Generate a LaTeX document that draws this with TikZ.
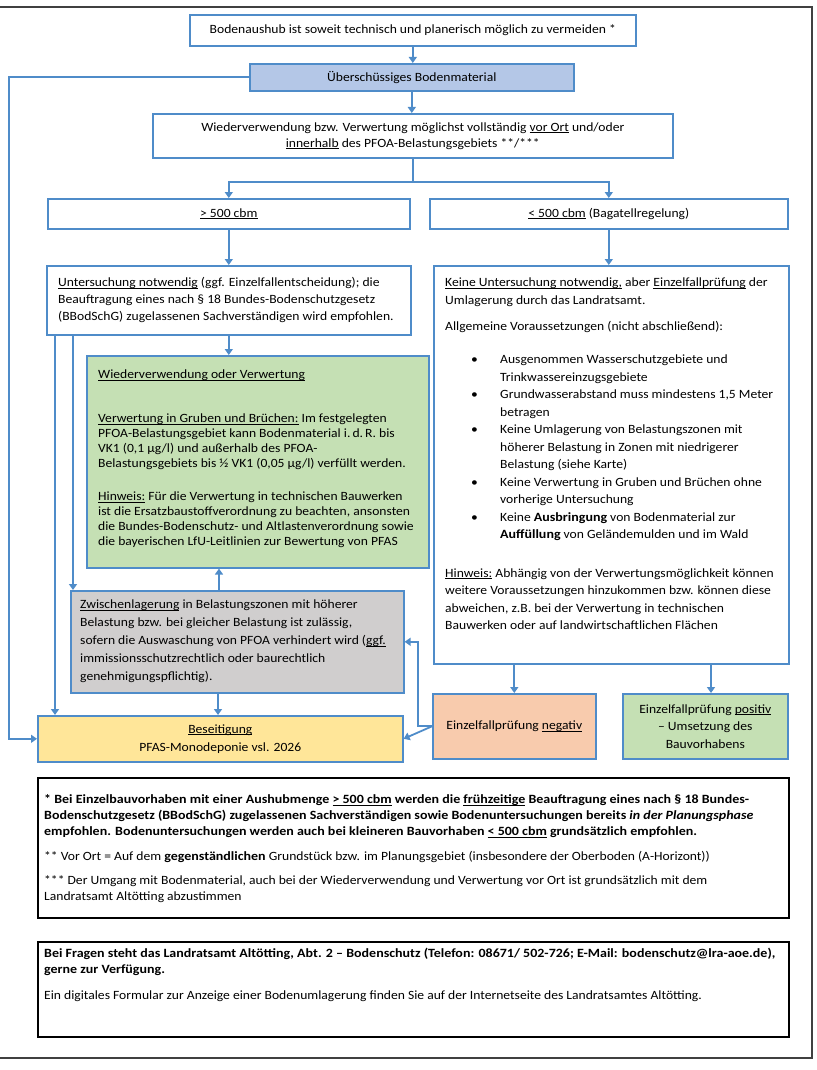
\documentclass[tikz,border=0pt]{standalone}
\usepackage{fontspec}
\setmainfont{Carlito}[UprightFeatures={FakeStretch=1.08}, ItalicFeatures={FakeStretch=1.08},
	BoldFeatures={FakeStretch=1.11}, BoldItalicFeatures={FakeStretch=1.11}]
\usetikzlibrary{arrows.meta}
\definecolor{flowblue}{HTML}{4F8CC9}
\definecolor{ueberfill}{HTML}{B4C7E7}
\definecolor{greenfill}{HTML}{C5E0B4}
\definecolor{grayfill}{HTML}{D0CECE}
\definecolor{yellowfill}{HTML}{FFE699}
\definecolor{salmonfill}{HTML}{F8CBAD}
\newcommand{\uln}[1]{\leavevmode\setbox0\hbox{#1}\rlap{\rule[-1.7pt]{\wd0}{0.6pt}}\box0\relax}
\newcommand{\tstrut}{\rule{0pt}{11pt}}
\newcommand{\blt}{\makebox[55pt][l]{\hspace{26pt}\textbullet}}
\newcommand{\bind}{\hspace*{55pt}}
\newcommand{\boxfont}{\fontsize{12.6}{15}\selectfont}

\begin{document}
\begin{tikzpicture}[x=1pt, y=-1pt,
	box/.style={draw=flowblue, line width=1.6pt, fill=white, anchor=north west, inner sep=0pt, align=center, font=\boxfont},
	note/.style={draw=black, line width=1.6pt, fill=white, anchor=north west, inner sep=0pt},
	txt/.style={anchor=north west, inner sep=0pt, align=left, font=\boxfont},
	flow/.style={draw=flowblue, line width=1.8pt, -{Triangle[width=8pt,length=6pt]}},
	link/.style={draw=flowblue, line width=1.8pt}]
	\useasboundingbox (0,0) rectangle (816,1070);
	\draw[line width=1.2pt, black!75] (0,7) -- (812,7) -- (812,1058) -- (0,1058);

	% Kopf
	\node[box, minimum width=446, minimum height=31] (vermeiden) at (189,14) {Bodenaushub ist soweit technisch und planerisch möglich zu vermeiden *};
	\node[box, fill=ueberfill, minimum width=324, minimum height=27] (ueber) at (249,63) {Überschüssiges Bodenmaterial};
	\node[box, minimum width=520, minimum height=44, font=\fontsize{12.6}{16}\selectfont] (wieder) at (152,113)
		{Wiederverwendung bzw. Verwertung möglichst vollständig \uln{vor Ort} und/oder\\\uln{innerhalb} des PFOA-Belastungsgebiets **/***};
	\node[box, minimum width=362, minimum height=30] (gross) at (47,198) {\uln{> 500 cbm}};
	\node[box, minimum width=358, minimum height=30] (klein) at (429,198) {\uln{< 500 cbm} (Bagatellregelung)};

	% linke Spalte
	\node[box, minimum width=364, minimum height=69] (unters) at (46,265) {};
	\node[txt, font=\fontsize{12.6}{17}\selectfont] (unterstext) at ([shift={(12,10.5)}]unters.north west)
		{\tstrut\uln{Untersuchung notwendig} (ggf. Einzelfallentscheidung); die\\
		Beauftragung eines nach § 18 Bundes-Bodenschutzgesetz\\
		(BBodSchG) zugelassenen Sachverständigen wird empfohlen.};
	\node[box, fill=greenfill, minimum width=342, minimum height=212] (verwertung) at (86,355) {};
	\node[txt] (verwertungtext) at ([shift={(12,12.5)}]verwertung.north west)
		{\tstrut\uln{Wiederverwendung oder Verwertung}\\[29pt]
		\uln{Verwertung in Gruben und Brüchen:} Im festgelegten\\
		PFOA-Belastungsgebiet kann Bodenmaterial i.\,d.\,R. bis\\
		VK1 (0,1 µg/l) und außerhalb des PFOA-\\
		Belastungsgebiets bis ½ VK1 (0,05 µg/l) verfüllt werden.\\[18pt]
		\uln{Hinweis:} Für die Verwertung in technischen Bauwerken\\
		ist die Ersatzbaustoffverordnung zu beachten, ansonsten\\
		die Bundes-Bodenschutz- und Altlastenverordnung sowie\\
		die bayerischen LfU-Leitlinien zur Bewertung von PFAS};
	\node[box, fill=grayfill, minimum width=333, minimum height=102] (zwischen) at (70,590) {};
	\node[txt, font=\fontsize{12.6}{18}\selectfont] (zwischentext) at ([shift={(10,7.5)}]zwischen.north west)
		{\tstrut\uln{Zwischenlagerung} in Belastungszonen mit höherer\\
		Belastung bzw. bei gleicher Belastung ist zulässig,\\
		sofern die Auswaschung von PFOA verhindert wird (\uln{ggf.}\\
		immissionsschutzrechtlich oder baurechtlich\\
		genehmigungspflichtig).};
	\node[box, fill=yellowfill, minimum width=365, minimum height=46, font=\fontsize{12.6}{18}\selectfont] (beseitigung) at (37,715)
		{\uln{Beseitigung}\\PFAS-Monodeponie vsl. 2026};

	% rechte Spalte
	\node[box, minimum width=355, minimum height=398] (keine) at (433,265) {};
	\node[txt, font=\fontsize{12.6}{17.5}\selectfont] (keinetext) at ([shift={(12,10.5)}]keine.north west)
		{\tstrut\uln{Keine Untersuchung notwendig,} aber \uln{Einzelfallprüfung} der\\
		Umlagerung durch das Landratsamt.\\[9pt]
		Allgemeine Voraussetzungen (nicht abschließend):\\[15.5pt]
		\blt Ausgenommen Wasserschutzgebiete und\\
		\bind Trinkwassereinzugsgebiete\\
		\blt Grundwasserabstand muss mindestens 1,5 Meter\\
		\bind betragen\\
		\blt Keine Umlagerung von Belastungszonen mit\\
		\bind höherer Belastung in Zonen mit niedrigerer\\
		\bind Belastung (siehe Karte)\\
		\blt Keine Verwertung in Gruben und Brüchen ohne\\
		\bind vorherige Untersuchung\\
		\blt Keine \textbf{Ausbringung} von Bodenmaterial zur\\
		\bind \textbf{Auffüllung} von Geländemulden und im Wald\\[21pt]
		\uln{Hinweis:} Abhängig von der Verwertungsmöglichkeit können\\
		weitere Voraussetzungen hinzukommen bzw. können diese\\
		abweichen, z.B. bei der Verwertung in technischen\\
		Bauwerken oder auf landwirtschaftlichen Flächen};
	\node[box, fill=salmonfill, minimum width=163, minimum height=65] (negativ) at (432,693) {Einzelfallprüfung \uln{negativ}};
	\node[box, fill=greenfill, minimum width=165, minimum height=65, font=\fontsize{12.6}{17.5}\selectfont] (positiv) at (622,693)
		{Einzelfallprüfung \uln{positiv}\\– Umsetzung des\\Bauvorhabens};

	% Fussnoten
	\node[note, minimum width=751, minimum height=140] (fna) at (37,777) {};
	\node[txt, font=\fontsize{12.6}{16}\selectfont] (fnatext) at ([shift={(7,15.5)}]fna.north west)
		{\tstrut\textbf{* Bei Einzelbauvorhaben mit einer Aushubmenge \uln{> 500 cbm} werden die \uln{frühzeitige} Beauftragung eines nach § 18 Bundes-}\\
		\textbf{Bodenschutzgesetz (BBodSchG) zugelassenen Sachverständigen sowie Bodenuntersuchungen bereits \textit{in der Planungsphase}}\\
		\textbf{empfohlen. Bodenuntersuchungen werden auch bei kleineren Bauvorhaben \uln{< 500 cbm} grundsätzlich empfohlen.}\\[9pt]
		** Vor Ort = Auf dem \textbf{gegenständlichen} Grundstück bzw. im Planungsgebiet (insbesondere der Oberboden (A-Horizont))\\[8pt]
		*** Der Umgang mit Bodenmaterial, auch bei der Wiederverwendung und Verwertung vor Ort ist grundsätzlich mit dem\\
		Landratsamt Altötting abzustimmen};
	\node[note, minimum width=751, minimum height=95] (fnb) at (37,941) {};
	\node[txt, font=\fontsize{12.6}{16}\selectfont] (fnbtext) at ([shift={(7,5)}]fnb.north west)
		{\tstrut\textbf{Bei Fragen steht das Landratsamt Altötting, Abt. 2 – Bodenschutz (Telefon: 08671/ 502-726; E-Mail: bodenschutz@lra-aoe.de),}\\
		\textbf{gerne zur Verfügung.}\\[10pt]
		Ein digitales Formular zur Anzeige einer Bodenumlagerung finden Sie auf der Internetseite des Landratsamtes Altötting.};

	% Pfeile
	\draw[flow] (vermeiden.south) -- (vermeiden.south |- ueber.north);
	\draw[flow] (ueber.south) -- (ueber.south |- wieder.north);
	\draw[flow] (ueber.west) -- ++(-240,0) |- (beseitigung.west);
	\draw[link] (wieder.south) -- ++(0,23) coordinate (split);
	\draw[flow] (split) -| (gross.north);
	\draw[flow] (split) -| (klein.north);
	\draw[flow] (gross.south) -- (unters.north);
	\draw[flow] (klein.south) -- (klein.south |- keine.north);
	\draw[flow] (unters.south) -- (unters.south |- verwertung.north);
	\draw[flow] ([xshift=9pt]unters.south west) -- ([xshift=9pt]unters.south west |- beseitigung.north);
	\draw[flow] ([xshift=27pt]unters.south west) -- ([xshift=27pt]unters.south west |- zwischen.north);
	\draw[flow] ([xshift=149pt]zwischen.north west) -- ([xshift=149pt]zwischen.north west |- verwertung.south);
	\draw[flow] ([xshift=148pt]zwischen.south west) -- ([xshift=148pt]zwischen.south west |- beseitigung.north);
	\draw[flow] (negativ.north |- keine.south) -- (negativ.north);
	\draw[flow] ([xshift=89pt]positiv.north west |- keine.south) -- ([xshift=89pt]positiv.north west);
	\draw[flow] (negativ.west) -- ++(-14,0) |- (zwischen.east);
	\draw[flow] (negativ.west) -- (beseitigung.east);
\end{tikzpicture}
\end{document}
